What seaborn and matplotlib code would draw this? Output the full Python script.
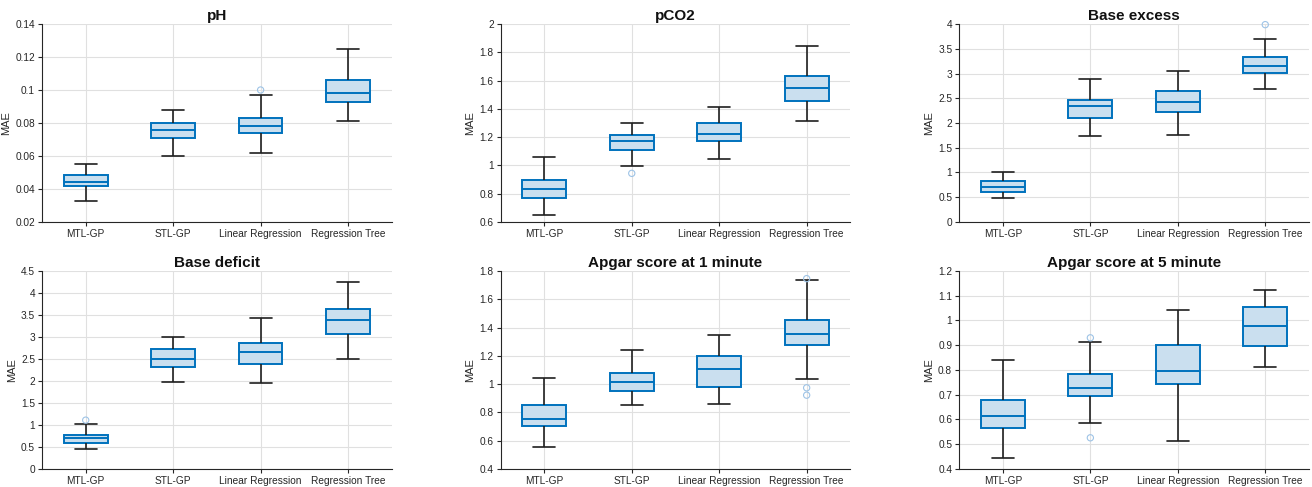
import numpy as np
import pandas as pd
import matplotlib
matplotlib.use("Agg")
import matplotlib.pyplot as plt
import seaborn as sns

#------------------data----------------------------------------
# each box: [lower whisker, q1, median, q3, upper whisker]
methods = ["MTL-GP", "STL-GP", "Linear Regression", "Regression Tree"]
titles = ["pH", "pCO2", "Base excess", "Base deficit",
          "Apgar score at 1 minute", "Apgar score at 5 minute"]

ph_boxes = [[0.033, 0.042, 0.0445, 0.0487, 0.055],
            [0.060, 0.071, 0.0755, 0.080, 0.088],
            [0.0618, 0.0737, 0.078, 0.083, 0.0967],
            [0.081, 0.093, 0.098, 0.106, 0.1248]]
pco2_boxes = [[0.652, 0.770, 0.836, 0.900, 1.058],
              [0.994, 1.109, 1.171, 1.216, 1.303],
              [1.046, 1.171, 1.220, 1.298, 1.414],
              [1.312, 1.456, 1.548, 1.633, 1.843]]
bexcess_boxes = [[0.478, 0.606, 0.707, 0.820, 1.020],
                 [1.744, 2.100, 2.337, 2.458, 2.896],
                 [1.758, 2.222, 2.424, 2.653, 3.044],
                 [2.694, 3.003, 3.152, 3.333, 3.704]]
bdeficit_boxes = [[0.461, 0.590, 0.696, 0.770, 1.013],
                  [1.967, 2.307, 2.496, 2.716, 2.995],
                  [1.952, 2.390, 2.663, 2.867, 3.434],
                  [2.496, 3.071, 3.389, 3.638, 4.251]]
apgar1_boxes = [[0.555, 0.703, 0.753, 0.854, 1.042],
                [0.854, 0.953, 1.016, 1.080, 1.238],
                [0.859, 0.981, 1.106, 1.200, 1.344],
                [1.035, 1.278, 1.358, 1.456, 1.736]]
apgar5_boxes = [[0.446, 0.567, 0.614, 0.680, 0.840],
                [0.584, 0.696, 0.729, 0.785, 0.914],
                [0.513, 0.743, 0.797, 0.901, 1.044],
                [0.811, 0.895, 0.978, 1.053, 1.122]]

# outliers: (method, value)
ph_out = [("Linear Regression", 0.100)]
pco2_out = [("STL-GP", 0.944)]
bexcess_out = [("Regression Tree", 3.987)]
bdeficit_out = [("MTL-GP", 1.11)]
apgar1_out = [("Regression Tree", 0.974), ("Regression Tree", 0.922),
              ("Regression Tree", 1.746)]
apgar5_out = [("STL-GP", 0.930), ("STL-GP", 0.526)]

ylims = [(0.02, 0.14), (0.6, 2.0), (0, 4), (0, 4.5), (0.4, 1.8), (0.4, 1.2)]
ysteps = [0.02, 0.2, 0.5, 0.5, 0.2, 0.1]

all_boxes = [ph_boxes, pco2_boxes, bexcess_boxes, bdeficit_boxes, apgar1_boxes, apgar5_boxes]
all_out = [ph_out, pco2_out, bexcess_out, bdeficit_out, apgar1_out, apgar5_out]

#------------------style-------------------
sns.set_theme(style="whitegrid")
plt.rcParams['font.family'] = ['Liberation Sans', 'DejaVu Sans']

BLUE = "#0072BD"
FILL = "#cadfef"
WHISK = "#1f1f1f"
TXT = "#262626"


def fmt(v):
    return "%g" % round(v, 4)


def main():
    fig, axes = plt.subplots(2, 3, figsize=(13.12, 4.87), dpi=100)
    fig.subplots_adjust(left=0.032, right=0.9977, top=0.9507, bottom=0.037,
                        wspace=0.311, hspace=0.2475)

    for ax, title, boxes, outs, ylim, step in zip(axes.flat, titles, all_boxes,
                                                  all_out, ylims, ysteps):
        rows = []
        for m, vals in zip(methods, boxes):
            for v in vals:
                rows.append({"method": m, "mae": v})
        df = pd.DataFrame(rows)

        sns.boxplot(data=df, x="method", y="mae", order=methods, ax=ax,
                    whis=np.inf, width=0.5, color=FILL, linecolor=BLUE,
                    linewidth=1.4, saturation=1,
                    boxprops={"facecolor": FILL, "edgecolor": BLUE, "linewidth": 1.4},
                    whiskerprops={"color": WHISK, "linewidth": 1.2},
                    capprops={"color": WHISK, "linewidth": 1.2},
                    medianprops={"color": BLUE, "linewidth": 1.4})

        #outliers as hollow circles
        odf = pd.DataFrame(outs, columns=["method", "mae"])
        sns.stripplot(data=odf, x="method", y="mae", order=methods, ax=ax,
                      jitter=False, marker="o", size=4.5, color="#9dc3e6",
                      facecolors="none", edgecolor="#9dc3e6", linewidth=0.8,
                      zorder=5)
        for coll in ax.collections:
            if len(coll.get_offsets()) > 0:
                coll.set_clip_on(False)

        ax.set_xlim(-0.5, 3.5)
        ax.set_ylim(*ylim)
        ticks = np.arange(ylim[0], ylim[1] + step / 2, step)
        ax.set_yticks(ticks)
        ax.set_yticklabels([fmt(t) for t in ticks])
        ax.set_xticks(range(len(methods)))
        ax.set_xticklabels(methods)
        ax.set_xlabel("")
        ax.set_ylabel("MAE", fontsize=8, color=TXT, labelpad=3)
        ax.set_title(title, fontsize=11, fontweight="bold", color="#111111", pad=3)

        ax.grid(True, color="#e0e0e0", linewidth=0.8)
        ax.set_axisbelow(True)
        for side in ["top", "right"]:
            ax.spines[side].set_visible(False)
        for side in ["left", "bottom"]:
            ax.spines[side].set_color(TXT)
            ax.spines[side].set_linewidth(0.8)
        ax.tick_params(axis="both", labelsize=7.3, colors=TXT, length=3,
                       width=0.8, direction="out", pad=2, left=True, bottom=True)

    plt.savefig("out.png", dpi=100)


if __name__ == '__main__':
    main()
